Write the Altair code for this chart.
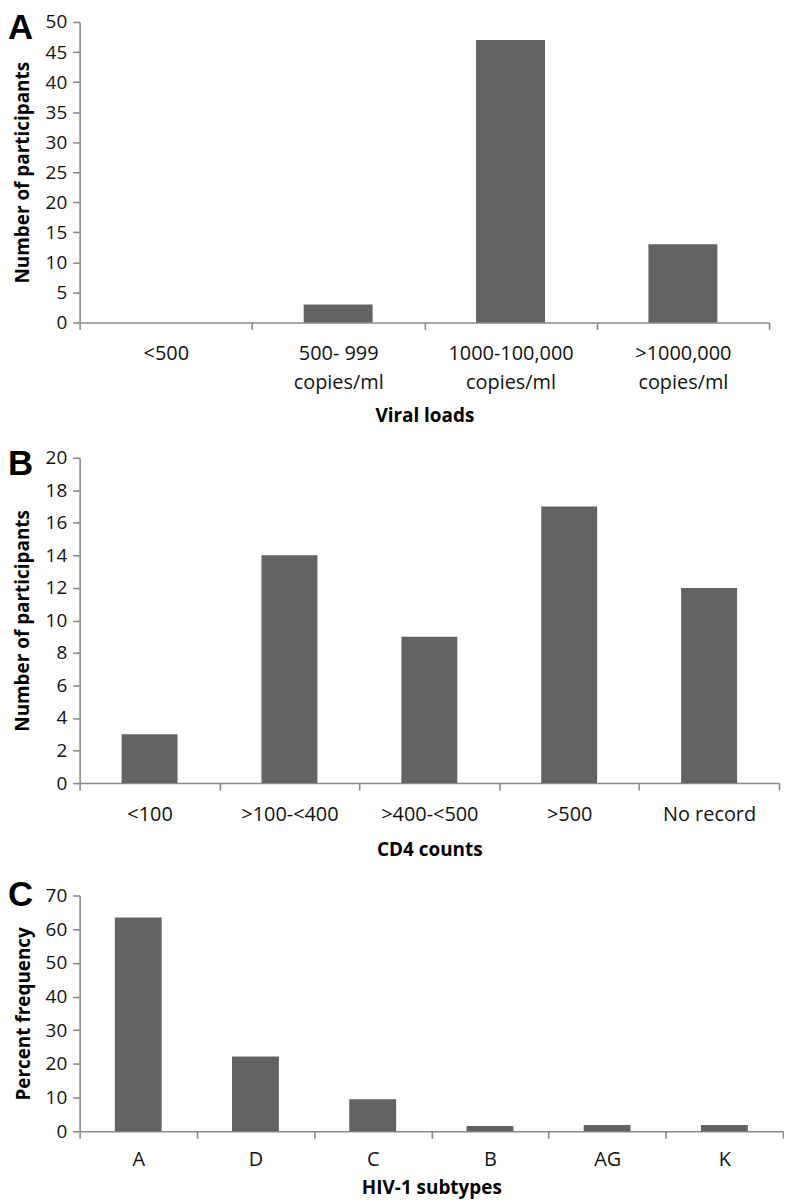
import altair as alt
import pandas as pd

# ---- data ----
viral_categories = ["<500", "500- 999 copies/ml", "1000-100,000 copies/ml", ">1000,000 copies/ml"]
viral_counts = [0, 3, 47, 13]

cd4_categories = ["<100", ">100-<400", ">400-<500", ">500", "No record"]
cd4_counts = [3, 14, 9, 17, 12]

subtype_categories = ["A", "D", "C", "B", "AG", "K"]
subtype_percent = [63.5, 22.2, 9.5, 1.6, 1.9, 1.9]

BAR_COLOR = "#636363"
AXIS_COLOR = "#8a8a8a"
TEXT_COLOR = "#111111"
FONT = "Open Sans"
LETTER_FONT = "Liberation Sans"


def panel(cats, vals, ymax, ystep, xtitle, ytitle, width, height, letter,
          letter_y, label_pad, title_y, label_expr=None, ytitle_x=-51):
    df = pd.DataFrame({"cat": cats, "val": vals})
    x_axis_kwargs = dict(
        title=xtitle, labelAngle=0, tickBand="extent", labelPadding=label_pad,
        labelFontSize=20, labelOverlap=False, labelLineHeight=29,
        labelBaseline="top", titleY=title_y, titleX=width / 2,
        titleBaseline="alphabetic", titleAlign="center",
    )
    if label_expr is not None:
        x_axis_kwargs["labelExpr"] = label_expr
    bars = alt.Chart(df).mark_bar(
        color=BAR_COLOR, width=alt.RelativeBandSize(0.4)
    ).encode(
        x=alt.X("cat:N", sort=cats,
                scale=alt.Scale(paddingInner=0, paddingOuter=0),
                axis=alt.Axis(**x_axis_kwargs)),
        y=alt.Y("val:Q",
                scale=alt.Scale(domain=[0, ymax], nice=False, zero=True),
                axis=alt.Axis(title=ytitle,
                              values=list(range(0, ymax + 1, ystep)),
                              labelPadding=6, labelFontSize=19,
                              labelOverlap=False,
                              titleX=ytitle_x, titleY=height / 2,
                              titleBaseline="alphabetic",
                              titleAlign="center", titleAngle=270)),
    )
    letter_df = pd.DataFrame({"t": [letter]})
    # letter_y is the em-box top relative to the plot's top edge
    lab = alt.Chart(letter_df).mark_text(
        font=LETTER_FONT, fontSize=35, fontWeight="bold", color="#000000",
        align="left", baseline="top"
    ).encode(text="t:N", x=alt.value(-72), y=alt.value(letter_y))
    return alt.layer(bars, lab).properties(width=width, height=height)


chart_a = panel(viral_categories, viral_counts, 50, 5, "Viral loads",
                "Number of participants", 693, 302, "A", -11, 14, 100,
                label_expr="split(replace(datum.label, ' copies/ml', '|copies/ml'), '|')")
chart_b = panel(cd4_categories, cd4_counts, 20, 2, "CD4 counts",
                "Number of participants", 703, 327, "B", -11, 15, 73)
chart_c = panel(subtype_categories, subtype_percent, 70, 10, "HIV-1 subtypes",
                "Percent frequency", 707, 237, "C", -17, 11, 63, ytitle_x=-50)

inner = alt.vconcat(chart_b, chart_c, spacing=113, bounds="flush")
chart = alt.vconcat(chart_a, inner, spacing=136, bounds="flush").properties(
    padding={"top": 0, "left": 0, "right": 0, "bottom": 0},
    background="white",
).configure_view(stroke=None).configure_axis(
    grid=False,
    domainColor=AXIS_COLOR, domainWidth=1.6,
    tickColor=AXIS_COLOR, tickWidth=1.6, tickSize=7,
    labelFont=FONT, labelColor=TEXT_COLOR,
    titleFont=FONT, titleFontWeight="bold", titleFontSize=19,
    titleColor="#000000",
)

chart.save("out.html", embed_options={"renderer": "svg", "actions": False})
